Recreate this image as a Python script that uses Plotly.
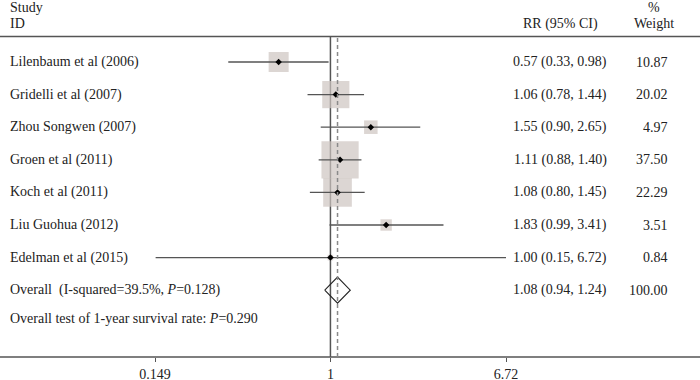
import math
import plotly.graph_objects as go

studies = ["Lilenbaum et al (2006)", "Gridelli et al (2007)", "Zhou Songwen (2007)",
           "Groen et al (2011)", "Koch et al (2011)", "Liu Guohua (2012)", "Edelman et al (2015)"]
rr = [0.57, 1.06, 1.55, 1.11, 1.08, 1.83, 1.00]
ci_low = [0.33, 0.78, 0.90, 0.88, 0.80, 0.99, 0.15]
ci_high = [0.98, 1.44, 2.65, 1.40, 1.45, 3.41, 6.72]
weights = [10.87, 20.02, 4.97, 37.50, 22.29, 3.51, 0.84]
overall_rr, overall_low, overall_high, overall_weight = 1.08, 0.94, 1.24, 100.00
overall_label = "Overall  (I-squared=39.5%, <i>P</i>=0.128)"
overall_test = "Overall test of 1-year survival rate: <i>P</i>=0.290"
tick_vals = [0.149, 1, 6.72]
tick_text = ["0.149", "1", "6.72"]

W, H = 700, 380
FONT = dict(family="Liberation Serif", size=14, color="#222222")
row_px0, row_step = 62, 32.6
y_top = -row_px0 / row_step
y_bot = y_top + H / row_step

def py(p):  # paper y from pixel
    return 1 - p / H

rows = list(range(len(studies)))
overall_row = len(studies)

fig = go.Figure()

# squares
fig.add_trace(go.Scatter(
    x=rr, y=rows, mode="markers",
    marker=dict(symbol="square", size=[6.07 * math.sqrt(w) for w in weights],
                color="#cdc5c1", line=dict(width=0)),
    hoverinfo="skip", showlegend=False))

# CI lines
cx, cy = [], []
for i, (l, h) in enumerate(zip(ci_low, ci_high)):
    cx += [l, h, None]
    cy += [i, i, None]
fig.add_trace(go.Scatter(x=cx, y=cy, mode="lines",
                         line=dict(color="#555555", width=1.3),
                         hoverinfo="skip", showlegend=False))

# point estimates
fig.add_trace(go.Scatter(x=rr, y=rows, mode="markers",
                         marker=dict(symbol="diamond", size=5, color="black"),
                         hoverinfo="skip", showlegend=False))

# overall diamond
dh = 0.4
fig.add_trace(go.Scatter(
    x=[overall_low, overall_rr, overall_high, overall_rr, overall_low],
    y=[overall_row, overall_row - dh, overall_row, overall_row + dh, overall_row],
    mode="lines", line=dict(color="#222222", width=1.1),
    hoverinfo="skip", showlegend=False))

axis_pos = py(357)
sep_y = py(36.5)

shapes = [
    dict(type="line", xref="paper", yref="paper", x0=0, x1=1, y0=sep_y, y1=sep_y,
         line=dict(color="#555555", width=1.3)),
    dict(type="line", xref="paper", yref="paper", x0=0, x1=1, y0=axis_pos, y1=axis_pos,
         line=dict(color="#555555", width=1.3)),
    dict(type="line", xref="x", yref="paper", x0=1, x1=1, y0=axis_pos, y1=sep_y,
         line=dict(color="#555555", width=1.5), layer="below"),
    dict(type="line", xref="x", yref="paper", x0=overall_rr, x1=overall_rr, y0=axis_pos, y1=sep_y,
         line=dict(color="#8a8a8a", width=1.5, dash="4px,3px")),
]

ann = []
def txt(x, y, s, anchor="left", yref="y", size=14):
    ann.append(dict(x=x, y=y, xref="paper", yref=yref, text=s, showarrow=False,
                    xanchor=anchor, yanchor="middle", font=dict(FONT, size=size)))

# headers
txt(8 / W, py(8), "Study", yref="paper")
txt(8 / W, py(24), "ID", yref="paper")
txt(560 / W, py(24), "RR (95% CI)", "center", yref="paper")
txt(654 / W, py(8), "%", "center", yref="paper")
txt(654 / W, py(24), "Weight", "center", yref="paper")

for i, s in enumerate(studies):
    txt(8 / W, i, s)
    txt(560 / W, i, f"{rr[i]:.2f} ({ci_low[i]:.2f}, {ci_high[i]:.2f})", "center")
    txt(670 / W, i, f"{weights[i]:.2f}", "right")

txt(8 / W, overall_row, overall_label)
txt(560 / W, overall_row, f"{overall_rr:.2f} ({overall_low:.2f}, {overall_high:.2f})", "center")
txt(670 / W, overall_row, f"{overall_weight:.2f}", "right")
txt(8 / W, py(318), overall_test, yref="paper")

fig.update_layout(
    width=W, height=H, margin=dict(l=0, r=0, t=0, b=0, autoexpand=False),
    paper_bgcolor="white", plot_bgcolor="white",
    shapes=shapes, annotations=ann, font=FONT,
    xaxis=dict(type="log", range=[math.log10(0.149), math.log10(6.72)],
               domain=[155 / W, 506 / W], anchor="free", position=axis_pos,
               showgrid=False, zeroline=False, showline=False,
               ticks="outside", ticklen=4, tickwidth=1.3, tickcolor="#555555",
               ticklabelstandoff=0,
               tickvals=tick_vals, ticktext=tick_text, tickfont=FONT, fixedrange=True),
    yaxis=dict(range=[y_bot, y_top], domain=[0, 1], visible=False, fixedrange=True),
)

fig.write_html("out.html", config={"displayModeBar": False},
               post_script="document.body.style.margin='0';document.body.style.overflow='hidden';")
